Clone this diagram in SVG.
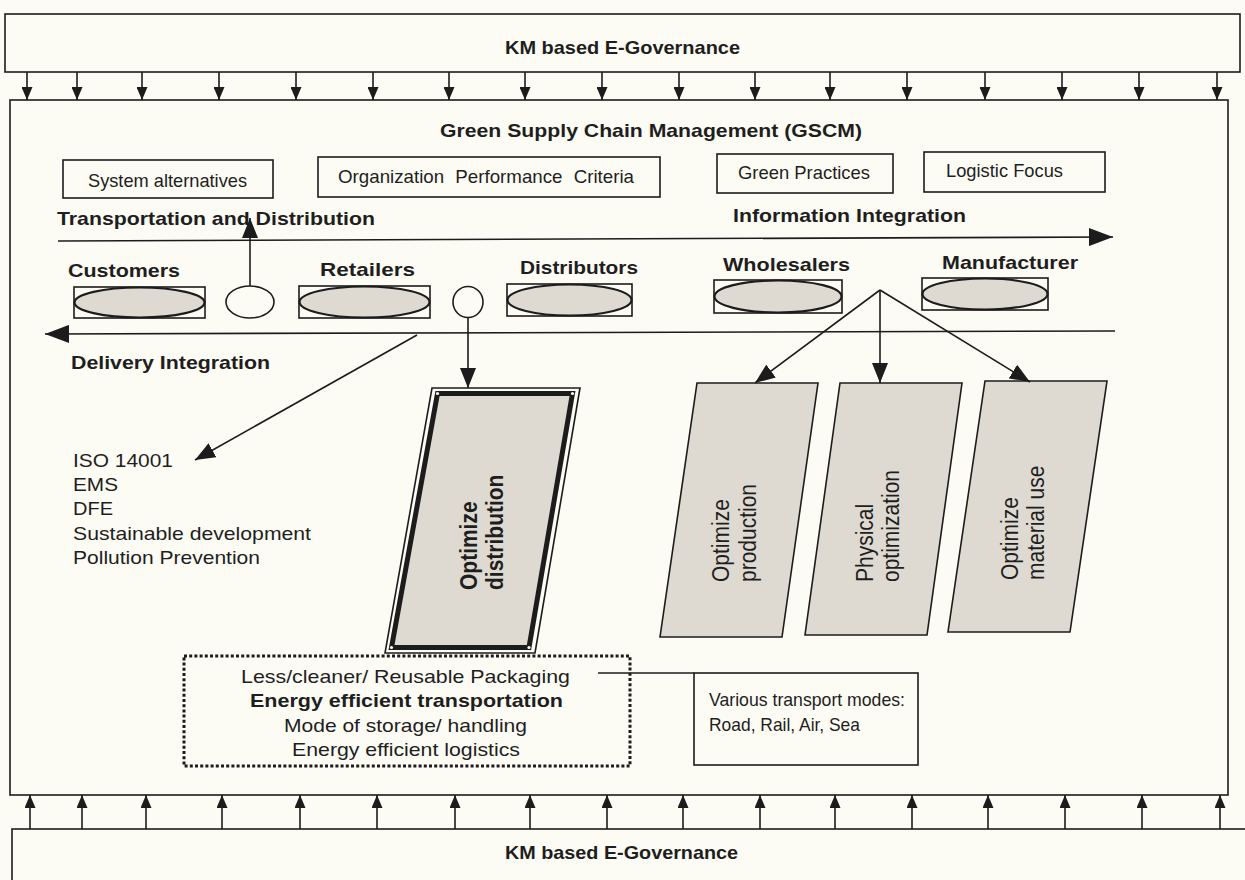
<svg xmlns="http://www.w3.org/2000/svg" width="1245" height="880" viewBox="0 0 1245 880">
  <defs>
    <marker id="tipS" viewBox="0 0 10 10" refX="10" refY="5" markerWidth="13" markerHeight="11" markerUnits="userSpaceOnUse" orient="auto" preserveAspectRatio="none">
      <path d="M0,0L10,5L0,10z" fill="#1c1c1c"/>
    </marker>
    <marker id="tipM" viewBox="0 0 10 10" refX="10" refY="5" markerWidth="20" markerHeight="16" markerUnits="userSpaceOnUse" orient="auto" preserveAspectRatio="none">
      <path d="M0,0L10,5L0,10z" fill="#1c1c1c"/>
    </marker>
    <marker id="tipL" viewBox="0 0 10 10" refX="10" refY="5" markerWidth="24" markerHeight="18" markerUnits="userSpaceOnUse" orient="auto" preserveAspectRatio="none">
      <path d="M0,0L10,5L0,10z" fill="#1c1c1c"/>
    </marker>
  </defs>
  <style>
    .ln{stroke:#1c1c1c;stroke-width:1.6;fill:none}
    .bx{fill:none;stroke:#1c1c1c;stroke-width:1.6}
    .t{font-family:"Liberation Sans",Arial,sans-serif;font-size:19px;fill:#1e1e1e}
    .b{font-weight:bold}
    .r{font-size:21px}
    .sh{fill:#dedad2;stroke:#1c1c1c;stroke-width:1.6}
    .ov{fill:#dedad2;stroke:#1c1c1c;stroke-width:2.2}
    .hole{fill:#fcfbf4;stroke:#1c1c1c;stroke-width:1.6}
    .dots{fill:none;stroke:#1c1c1c;stroke-width:3;stroke-dasharray:3 2.2}
    .up{stroke:#1c1c1c;stroke-width:1.6;marker-end:url(#tipS)}
  </style>

  <rect width="1245" height="880" fill="#fcfbf4"/>

  <!-- upper governance banner -->
  <g id="governance-top">
    <rect class="bx" x="5" y="14" width="1235" height="58"/>
    <text class="t b" x="505" y="54" textLength="235" lengthAdjust="spacingAndGlyphs">KM based E-Governance</text>
  </g>

  <!-- main GSCM frame -->
  <g id="gscm">
    <rect class="bx" x="10" y="100" width="1218" height="695"/>
    <text class="t b" x="440" y="137" textLength="422" lengthAdjust="spacingAndGlyphs">Green Supply Chain Management (GSCM)</text>
  </g>

  <g id="system-alternatives">
    <rect class="bx" x="63" y="160" width="210" height="38"/>
    <text class="t" x="88" y="187" textLength="159" lengthAdjust="spacingAndGlyphs">System alternatives</text>
  </g>
  <g id="performance-criteria">
    <rect class="bx" x="318" y="157" width="342" height="40"/>
    <text class="t" x="338" y="183" textLength="296" lengthAdjust="spacingAndGlyphs" word-spacing="6">Organization Performance Criteria</text>
  </g>
  <g id="green-practices">
    <rect class="bx" x="717" y="154" width="176" height="39"/>
    <text class="t" x="738" y="179" textLength="132" lengthAdjust="spacingAndGlyphs">Green Practices</text>
  </g>
  <g id="logistic-focus">
    <rect class="bx" x="924" y="152" width="181" height="40"/>
    <text class="t" x="946" y="177" textLength="117" lengthAdjust="spacingAndGlyphs">Logistic Focus</text>
  </g>

  <!-- flow labels -->
  <g id="flow-labels">
    <text class="t b" x="57" y="225" textLength="318" lengthAdjust="spacingAndGlyphs">Transportation and Distribution</text>
    <text class="t b" x="733" y="222" textLength="233" lengthAdjust="spacingAndGlyphs">Information Integration</text>
    <text class="t b" x="71" y="369" textLength="199" lengthAdjust="spacingAndGlyphs">Delivery Integration</text>
  </g>

  <!-- supply chain members -->
  <g id="customers">
    <text class="t b" x="68" y="277" textLength="112" lengthAdjust="spacingAndGlyphs">Customers</text>
    <rect class="bx" x="74" y="287" width="131" height="31"/>
    <ellipse class="ov" cx="139.5" cy="302.5" rx="65" ry="15"/>
  </g>
  <g id="retailers">
    <text class="t b" x="320" y="276" textLength="95" lengthAdjust="spacingAndGlyphs">Retailers</text>
    <rect class="bx" x="299" y="286" width="131" height="32"/>
    <ellipse class="ov" cx="364.5" cy="302" rx="65" ry="15.5"/>
  </g>
  <g id="distributors">
    <text class="t b" x="520" y="274" textLength="118" lengthAdjust="spacingAndGlyphs">Distributors</text>
    <rect class="bx" x="507" y="284" width="125" height="32"/>
    <ellipse class="ov" cx="569.5" cy="300" rx="62" ry="15.5"/>
  </g>
  <g id="wholesalers">
    <text class="t b" x="723" y="271" textLength="127" lengthAdjust="spacingAndGlyphs">Wholesalers</text>
    <rect class="bx" x="714" y="280" width="128" height="33"/>
    <ellipse class="ov" cx="778" cy="296.5" rx="63.5" ry="16"/>
  </g>
  <g id="manufacturer">
    <text class="t b" x="942" y="269" textLength="136" lengthAdjust="spacingAndGlyphs">Manufacturer</text>
    <rect class="bx" x="922" y="278" width="126" height="32"/>
    <ellipse class="ov" cx="985" cy="294" rx="62.5" ry="15.5"/>
  </g>

  <g id="junction-a"><ellipse class="hole" cx="250" cy="302" rx="24" ry="16"/></g>
  <g id="junction-b"><ellipse class="hole" cx="468" cy="302" rx="15" ry="15.5"/></g>

  <!-- standards list -->
  <g id="standards">
    <text class="t" x="73" y="467" textLength="100" lengthAdjust="spacingAndGlyphs">ISO 14001</text>
    <text class="t" x="73" y="491" textLength="45" lengthAdjust="spacingAndGlyphs">EMS</text>
    <text class="t" x="73" y="515" textLength="40" lengthAdjust="spacingAndGlyphs">DFE</text>
    <text class="t" x="73" y="540" textLength="238" lengthAdjust="spacingAndGlyphs">Sustainable development</text>
    <text class="t" x="73" y="564" textLength="187" lengthAdjust="spacingAndGlyphs">Pollution Prevention</text>
  </g>

  <!-- optimisation blocks -->
  <g id="optimize-distribution">
    <polygon points="432,388 580,388 535,653 385,653" fill="#fcfbf4" stroke="#1c1c1c" stroke-width="1.6"/>
    <polygon points="437.5,393.5 572.5,393.5 529,647.5 391.5,647.5" fill="#dedad2" stroke="#1c1c1c" stroke-width="5"/>
    <g fill="#fcfbf4">
      <circle cx="437.5" cy="393.5" r="1.6"/><circle cx="572.5" cy="393.5" r="1.6"/>
      <circle cx="529" cy="647.5" r="1.6"/><circle cx="391.5" cy="647.5" r="1.6"/>
    </g>
    <text class="t b r" transform="translate(477,590) rotate(-90) scale(1,1.12)">Optimize</text>
    <text class="t b r" transform="translate(503,590) rotate(-90) scale(1,1.12)">distribution</text>
  </g>
  <g id="optimize-production">
    <polygon class="sh" points="697,383 818,383 782,637 660,637"/>
    <text class="t r" transform="translate(729,582) rotate(-90) scale(1,1.12)">Optimize</text>
    <text class="t r" transform="translate(756,582) rotate(-90) scale(1,1.12)">production</text>
  </g>
  <g id="physical-optimization">
    <polygon class="sh" points="840,383 962,383 927,635 805,635"/>
    <text class="t r" transform="translate(873,582) rotate(-90) scale(1,1.12)">Physical</text>
    <text class="t r" transform="translate(899,582) rotate(-90) scale(1,1.12)">optimization</text>
  </g>
  <g id="optimize-material">
    <polygon class="sh" points="985,381 1107,381 1070,632 948,632"/>
    <text class="t r" transform="translate(1018,580) rotate(-90) scale(1,1.12)">Optimize</text>
    <text class="t r" transform="translate(1044,580) rotate(-90) scale(1,1.12)">material use</text>
  </g>

  <!-- logistics practices -->
  <g id="logistics-practices">
    <rect class="dots" x="184" y="656" width="446" height="110"/>
    <text class="t" x="241" y="683" textLength="329" lengthAdjust="spacingAndGlyphs">Less/cleaner/ Reusable Packaging</text>
    <text class="t b" x="250" y="707" textLength="313" lengthAdjust="spacingAndGlyphs">Energy efficient transportation</text>
    <text class="t" x="284" y="732" textLength="243" lengthAdjust="spacingAndGlyphs">Mode of storage/ handling</text>
    <text class="t" x="292" y="756" textLength="228" lengthAdjust="spacingAndGlyphs">Energy efficient logistics</text>
  </g>

  <g id="transport-modes">
    <rect class="bx" x="694" y="673" width="224" height="92"/>
    <text class="t" x="709" y="706" textLength="196" lengthAdjust="spacingAndGlyphs">Various transport modes:</text>
    <text class="t" x="709" y="731" textLength="151" lengthAdjust="spacingAndGlyphs">Road, Rail, Air, Sea</text>
  </g>

  <!-- lower governance banner -->
  <g id="governance-bottom">
    <rect class="bx" x="12" y="829" width="1240" height="60"/>
    <text class="t b" x="505" y="859" textLength="233" lengthAdjust="spacingAndGlyphs">KM based E-Governance</text>
  </g>

  <!-- connectors -->
  <g id="connectors">
    <!-- governance feeds into GSCM from above -->
    <g class="down">
      <line class="up" x1="27" y1="72" x2="27" y2="100"/>
      <line class="up" x1="77" y1="72" x2="77" y2="100"/>
      <line class="up" x1="142" y1="72" x2="142" y2="100"/>
      <line class="up" x1="219" y1="72" x2="219" y2="100"/>
      <line class="up" x1="296" y1="72" x2="296" y2="100"/>
      <line class="up" x1="373" y1="72" x2="373" y2="100"/>
      <line class="up" x1="449" y1="72" x2="449" y2="100"/>
      <line class="up" x1="525" y1="72" x2="525" y2="100"/>
      <line class="up" x1="602" y1="72" x2="602" y2="100"/>
      <line class="up" x1="679" y1="72" x2="679" y2="100"/>
      <line class="up" x1="755" y1="72" x2="755" y2="100"/>
      <line class="up" x1="830" y1="72" x2="830" y2="100"/>
      <line class="up" x1="907" y1="72" x2="907" y2="100"/>
      <line class="up" x1="985" y1="72" x2="985" y2="100"/>
      <line class="up" x1="1062" y1="72" x2="1062" y2="100"/>
      <line class="up" x1="1139" y1="72" x2="1139" y2="100"/>
      <line class="up" x1="1217" y1="72" x2="1217" y2="100"/>
    </g>
    <!-- governance feeds into GSCM from below -->
    <g class="rise">
      <line class="up" x1="30" y1="829" x2="30" y2="795"/>
      <line class="up" x1="82" y1="829" x2="82" y2="795"/>
      <line class="up" x1="146" y1="829" x2="146" y2="795"/>
      <line class="up" x1="222" y1="829" x2="222" y2="795"/>
      <line class="up" x1="300" y1="829" x2="300" y2="795"/>
      <line class="up" x1="377" y1="829" x2="377" y2="795"/>
      <line class="up" x1="455" y1="829" x2="455" y2="795"/>
      <line class="up" x1="530" y1="829" x2="530" y2="795"/>
      <line class="up" x1="607" y1="829" x2="607" y2="795"/>
      <line class="up" x1="683" y1="829" x2="683" y2="795"/>
      <line class="up" x1="760" y1="829" x2="760" y2="795"/>
      <line class="up" x1="835" y1="829" x2="835" y2="795"/>
      <line class="up" x1="912" y1="829" x2="912" y2="795"/>
      <line class="up" x1="988" y1="829" x2="988" y2="795"/>
      <line class="up" x1="1065" y1="829" x2="1065" y2="795"/>
      <line class="up" x1="1142" y1="829" x2="1142" y2="795"/>
      <line class="up" x1="1220" y1="829" x2="1220" y2="795"/>
    </g>

    <!-- information integration flow -->
    <line class="ln" x1="58" y1="241" x2="1113" y2="237" marker-end="url(#tipL)"/>
    <!-- delivery integration flow -->
    <line class="ln" x1="1115" y1="331" x2="45" y2="334" marker-end="url(#tipL)"/>

    <line class="ln" x1="250" y1="286" x2="250" y2="218" marker-end="url(#tipM)"/>
    <line class="ln" x1="468" y1="317.5" x2="468" y2="388" marker-end="url(#tipM)"/>
    <line class="ln" x1="417" y1="335" x2="195" y2="460" marker-end="url(#tipM)"/>

    <line class="ln" x1="880" y1="290" x2="755" y2="383" marker-end="url(#tipM)"/>
    <line class="ln" x1="880" y1="290" x2="880" y2="383" marker-end="url(#tipM)"/>
    <line class="ln" x1="880" y1="290" x2="1030" y2="382" marker-end="url(#tipM)"/>

    <line class="ln" x1="598" y1="673" x2="694" y2="673"/>
  </g>
</svg>
